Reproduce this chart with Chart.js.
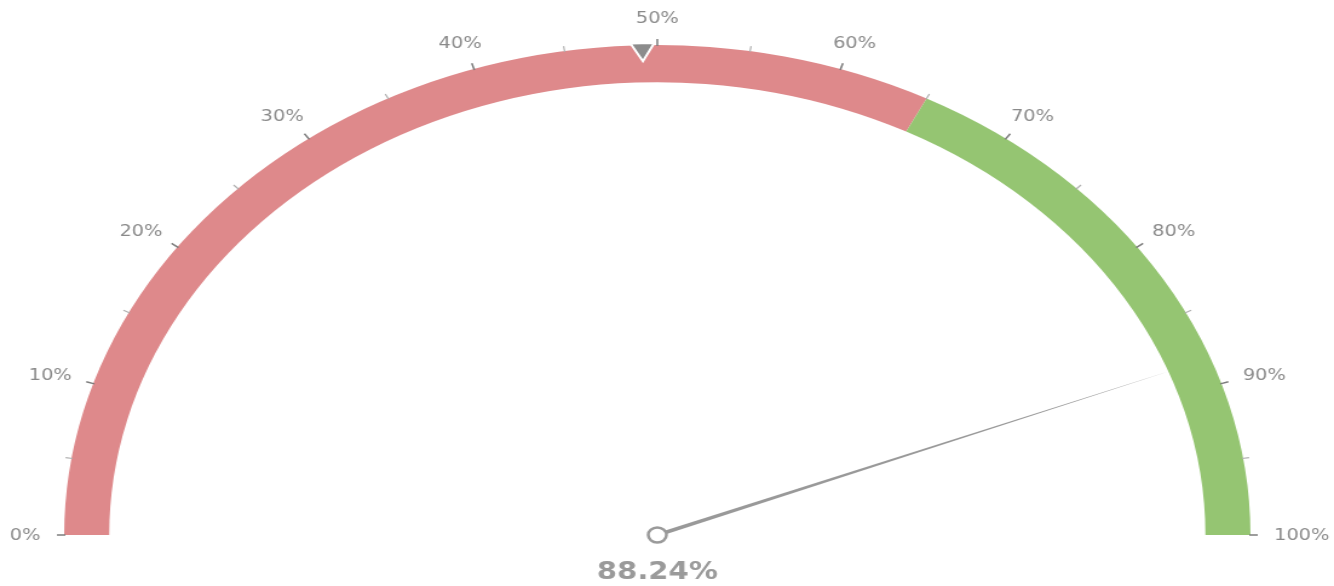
<!DOCTYPE html>
<html lang="en">
<head>
  <meta charset="UTF-8">
  <title>Gauge</title>
  <script src="https://cdn.jsdelivr.net/npm/chart.js"></script>
  <style>
    body {
      margin: 0;
      background: #fff;
    }
    #gauge {
      display: block;
    }
  </style>
</head>
<body>

<!-- drawn narrower and stretched sideways, so the dial comes out wide -->
<canvas id="gauge" width="1102" height="586" style="width:1334px;height:586px"></canvas>

<script>
// bands of the dial (percent)
const bandValues = [65, 35];
const bandColors = ['#de898b', '#95c572'];

// dial scale
const scaleMin = 0;
const scaleMax = 100;
const majorTicks = [0, 10, 20, 30, 40, 50, 60, 70, 80, 90, 100];
const minorTicks = [5, 15, 25, 35, 45, 55, 65, 75, 85, 95];
const tickLabels = ['0%', '10%', '20%', '30%', '40%', '50%', '60%', '70%', '80%', '90%', '100%'];

// current reading and target marker
const needleValue = 88.24;
const targetValue = 49.2;

const gaugeDecor = {
  id: 'gaugeDecor',
  afterDatasetsDraw(chart) {
    const arcs = chart.getDatasetMeta(0).data;
    const first = arcs[0];
    const last = arcs[arcs.length - 1];
    const cx = first.x;
    const cy = first.y;
    const rOut = first.outerRadius;
    const rIn = first.innerRadius;
    const a0 = first.startAngle;
    const a1 = last.endAngle;
    const angleOf = v => a0 + (v - scaleMin) / (scaleMax - scaleMin) * (a1 - a0);
    const pt = (a, r) => [cx + Math.cos(a) * r, cy + Math.sin(a) * r];
    const ctx = chart.ctx;

    ctx.save();

    // minor ticks
    ctx.strokeStyle = '#b0b0b0';
    ctx.lineWidth = 1.2;
    minorTicks.forEach(v => {
      const a = angleOf(v);
      const p1 = pt(a, rOut - 1), p2 = pt(a, rOut + 5);
      ctx.beginPath();
      ctx.moveTo(p1[0], p1[1]);
      ctx.lineTo(p2[0], p2[1]);
      ctx.stroke();
    });

    // major ticks and labels; labels sit just outside the rim,
    // pushed out by half their box so the near edge stays at one distance
    ctx.strokeStyle = '#7c7c7c';
    ctx.lineWidth = 1.5;
    ctx.fillStyle = '#8a8a8a';
    ctx.font = '16px "DejaVu Sans", sans-serif';
    ctx.textAlign = 'center';
    ctx.textBaseline = 'middle';
    majorTicks.forEach((v, i) => {
      const a = angleOf(v);
      const p1 = pt(a, rOut - 1), p2 = pt(a, rOut + 6);
      ctx.beginPath();
      ctx.moveTo(p1[0], p1[1]);
      ctx.lineTo(p2[0], p2[1]);
      ctx.stroke();
      const lp = pt(a, rOut + 19.5);
      const hw = ctx.measureText(tickLabels[i]).width / 2;
      ctx.fillText(tickLabels[i], lp[0] + Math.cos(a) * hw, lp[1] + Math.sin(a) * 8 + 1);
    });

    // target marker: small triangle pointing inward from the rim
    const ta = angleOf(targetValue);
    const half = 0.02;
    const b1 = pt(ta - half, rOut + 2);
    const b2 = pt(ta + half, rOut + 2);
    const tip = pt(ta, rOut - 16);
    ctx.beginPath();
    ctx.moveTo(b1[0], b1[1]);
    ctx.lineTo(b2[0], b2[1]);
    ctx.lineTo(tip[0], tip[1]);
    ctx.closePath();
    ctx.fillStyle = '#8c8c8c';
    ctx.fill();
    ctx.strokeStyle = '#ffffff';
    ctx.lineWidth = 2;
    ctx.stroke();

    // needle, tapering toward the inner edge of the dial
    const na = angleOf(needleValue);
    const nt = pt(na, rIn + 2);
    const perp = na + Math.PI / 2;
    const w = 1.9;
    ctx.beginPath();
    ctx.moveTo(cx + Math.cos(perp) * w, cy + Math.sin(perp) * w);
    ctx.lineTo(nt[0], nt[1]);
    ctx.lineTo(cx - Math.cos(perp) * w, cy - Math.sin(perp) * w);
    ctx.closePath();
    ctx.fillStyle = '#999999';
    ctx.fill();

    // hub
    ctx.beginPath();
    ctx.arc(cx, cy, 7.5, 0, Math.PI * 2);
    ctx.fillStyle = '#ffffff';
    ctx.fill();
    ctx.strokeStyle = '#9a9a9a';
    ctx.lineWidth = 2.5;
    ctx.stroke();

    // reading
    ctx.fillStyle = '#9a9a9a';
    ctx.font = 'bold 24px "DejaVu Sans", sans-serif';
    ctx.fillText(needleValue.toFixed(2) + '%', cx, cy + 38);

    ctx.restore();
  }
};

new Chart(document.getElementById('gauge'), {
  type: 'doughnut',
  data: {
    labels: ['Below', 'Above'],
    datasets: [{
      data: bandValues,
      backgroundColor: bandColors,
      borderWidth: 0
    }]
  },
  options: {
    responsive: false,
    animation: false,
    events: [],
    rotation: -90,
    circumference: 180,
    cutout: '92.4%',
    layout: {
      padding: { top: 45, bottom: 51, left: 40, right: 56 }
    },
    plugins: {
      legend: { display: false },
      tooltip: { enabled: false }
    }
  },
  plugins: [gaugeDecor]
});
</script>

</body>
</html>
